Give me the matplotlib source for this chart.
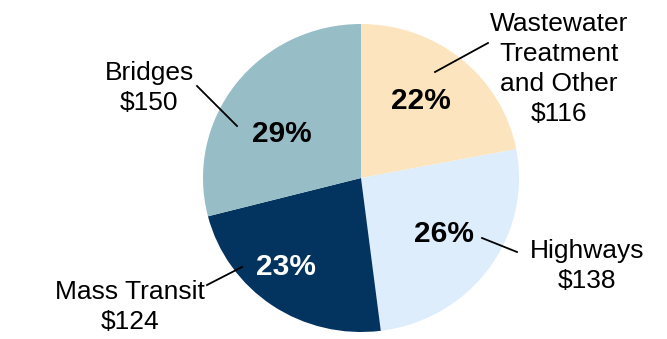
import matplotlib.pyplot as plt

plt.rcParams['font.family'] = ['Liberation Sans', 'DejaVu Sans']

# spending by category, clockwise from 12 o'clock
names = ['Wastewater\nTreatment\nand Other', 'Highways', 'Mass Transit', 'Bridges']
dollars = [116, 138, 124, 150]
shares = [22, 26, 23, 29]
colors = ['#FCE5BE', '#DDEDFC', '#03335F', '#97BDC6']
pct_colors = ['black', 'black', 'white', 'black']

W, H = 667, 339
cx, cy = 361, 161          # pie centre in pixels (from bottom)
rx, ry = 158, 154          # slightly wider than tall

fig = plt.figure(figsize=(W / 100, H / 100), dpi=100)
ax = fig.add_axes([0, 0, 1, 1])

ax.pie(shares, colors=colors, startangle=90, counterclock=False,
       radius=1, center=(0, 0), wedgeprops=dict(linewidth=0))
ax.set_aspect('auto')
ax.set_xlim(-cx / rx, (W - cx) / rx)
ax.set_ylim(-cy / ry, (H - cy) / ry)
ax.axis('off')


def px(x, y):
    # pixel position (origin top-left) -> data coords
    return (x - cx) / rx, ((H - y) - cy) / ry


# percentage labels inside wedges
pct_pos = [(421, 101), (444, 234), (286, 267), (282, 134)]
for s, (x, y), c in zip(shares, pct_pos, pct_colors):
    ax.text(*px(x, y), f'{s}%', ha='center', va='center',
            fontsize=21.5, fontweight='bold', color=c)

# category names with dollar amounts outside
name_pos = [(559, 69), (587, 266), (130, 307), (149, 88)]
for n, d, (x, y) in zip(names, dollars, name_pos):
    ax.text(*px(x, y), f'{n}\n${d}', ha='center', va='center',
            fontsize=19, linespacing=1.32)

# leader lines
leaders = [((435, 72), (488, 43)),
           ((482, 238), (517, 252)),
           ((242, 267), (207, 285)),
           ((237, 126), (197, 86))]
for a, b in leaders:
    (x0, y0), (x1, y1) = px(*a), px(*b)
    ax.plot([x0, x1], [y0, y1], color='black', lw=1.3)

fig.savefig('out.png', dpi=100, facecolor='white')
